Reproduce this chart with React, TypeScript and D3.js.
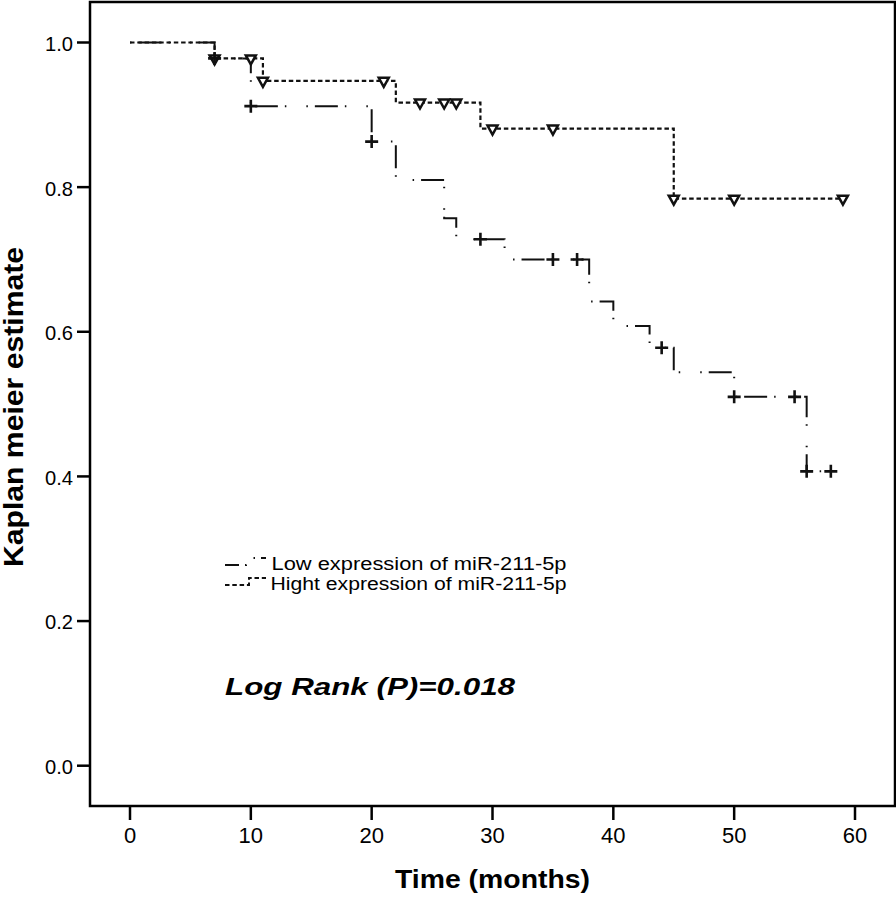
import React from 'react';
import * as d3 from 'd3';

// Kaplan-Meier step data (time in months, survival estimate)
const lowTimes = [0, 7, 10, 20, 22, 26, 27, 31, 38, 40, 43, 45, 50, 56, 58];
const lowSurv = [1.0, 0.978, 0.912, 0.863, 0.81, 0.757, 0.728, 0.7, 0.642, 0.608, 0.578, 0.544, 0.51, 0.407, 0.407];
const lowCensorTimes = [7, 10, 20, 29, 35, 37, 44, 50, 55, 56, 58];
const lowCensorSurv = [0.978, 0.912, 0.863, 0.728, 0.7, 0.7, 0.578, 0.51, 0.51, 0.407, 0.407];

const highTimes = [0, 7, 11, 22, 29, 45, 59];
const highSurv = [1.0, 0.978, 0.947, 0.917, 0.881, 0.784, 0.784];
const highCensorTimes = [7, 10, 11, 21, 24, 26, 27, 30, 35, 45, 50, 59];
const highCensorSurv = [0.978, 0.978, 0.947, 0.947, 0.917, 0.917, 0.917, 0.881, 0.881, 0.784, 0.784, 0.784];

const xTicks = [0, 10, 20, 30, 40, 50, 60];
const yTicks = [0, 0.2, 0.4, 0.6, 0.8, 1.0];

const legendLabels = ['Low expression of miR-211-5p', 'Hight expression of miR-211-5p'];
const statText = 'Log Rank (P)=0.018';
const xTitle = 'Time (months)';
const yTitle = 'Kaplan meier estimate';

const W = 896;
const H = 897;
const FONT = '"Liberation Sans", Arial, Helvetica, sans-serif';

const frame = { left: 90, right: 895, top: 2, bottom: 806 };

export default function App() {
  const x = d3.scaleLinear().domain([0, 60]).range([130, 855]);
  const y = d3.scaleLinear().domain([0, 1]).range([765.7, 42.5]);

  const line = d3
    .line<[number, number]>()
    .x((d) => x(d[0]))
    .y((d) => y(d[1]))
    .curve(d3.curveStepAfter);

  const lowPts: [number, number][] = lowTimes.map((t, i) => [t, lowSurv[i]]);
  const highPts: [number, number][] = highTimes.map((t, i) => [t, highSurv[i]]);

  const fmt = d3.format('.1f');

  const lowDash = '1.5,7,23,7,1.5,20';
  const highDash = '4.5,2.8';

  return (
    <svg
      width={W}
      height={H}
      viewBox={`0 0 ${W} ${H}`}
      style={{ position: 'absolute', left: 0, top: 0, background: '#fff' }}
      fontFamily={FONT}
    >
      <rect x={0} y={0} width={W} height={H} fill="#fff" />
      {/* frame */}
      <rect
        x={frame.left}
        y={frame.top}
        width={frame.right - frame.left}
        height={frame.bottom - frame.top}
        fill="none"
        stroke="#000"
        strokeWidth={2.5}
      />
      {/* y ticks */}
      {yTicks.map((v) => (
        <g key={'y' + v}>
          <line x1={frame.left - 13} x2={frame.left} y1={y(v)} y2={y(v)} stroke="#000" strokeWidth={2.5} />
          <text x={73} y={y(v)} dy="0.4em" textAnchor="end" fontSize={21} textLength={28} lengthAdjust="spacingAndGlyphs" fill="#000">
            {fmt(v)}
          </text>
        </g>
      ))}
      {/* x ticks */}
      {xTicks.map((v) => (
        <g key={'x' + v}>
          <line x1={x(v)} x2={x(v)} y1={frame.bottom} y2={frame.bottom + 14} stroke="#000" strokeWidth={2.5} />
          <text x={x(v)} y={843} textAnchor="middle" fontSize={22} fill="#000">
            {v}
          </text>
        </g>
      ))}
      {/* axis titles */}
      <text
        x={492.5}
        y={888}
        textAnchor="middle"
        fontSize={26}
        fontWeight="bold"
        textLength={195}
        lengthAdjust="spacingAndGlyphs"
        fill="#000"
      >
        {xTitle}
      </text>
      <text
        transform={`translate(22.5,407) rotate(-90)`}
        textAnchor="middle"
        fontSize={27}
        fontWeight="bold"
        textLength={320}
        lengthAdjust="spacingAndGlyphs"
        fill="#000"
      >
        {yTitle}
      </text>

      {/* curves */}
      <path d={line(highPts) || ''} fill="none" stroke="#111" strokeWidth={2.2} strokeDasharray={highDash} />
      <path d={line(lowPts) || ''} fill="none" stroke="#111" strokeWidth={2} strokeDasharray={lowDash} />

      {/* censor marks: high (triangles) */}
      {highCensorTimes.map((t, i) => {
        const cx = x(t);
        const cy = y(highCensorSurv[i]);
        return (
          <path
            key={'hc' + i}
            d={`M${cx - 5},${cy - 3} L${cx + 5},${cy - 3} L${cx},${cy + 6} Z`}
            fill="#fff"
            stroke="#111"
            strokeWidth={2.5}
            strokeLinejoin="miter"
          />
        );
      })}
      {/* censor marks: low (plus) */}
      {lowCensorTimes.map((t, i) => {
        const cx = x(t);
        const cy = y(lowCensorSurv[i]);
        return (
          <path
            key={'lc' + i}
            d={`M${cx - 6.5},${cy} H${cx + 6.5} M${cx},${cy - 6.5} V${cy + 6.5}`}
            stroke="#111"
            strokeWidth={2.6}
            fill="none"
          />
        );
      })}

      {/* legend */}
      <path d="M225,565 H246 V558 H266" fill="none" stroke="#111" strokeWidth={2} strokeDasharray="14,6,1.5,14,1.5,6" />
      <text x={271.5} y={570} fontSize={18} textLength={295} lengthAdjust="spacingAndGlyphs" fill="#000">
        {legendLabels[0]}
      </text>
      <path d="M225,585 H249 V578 H266" fill="none" stroke="#111" strokeWidth={2} strokeDasharray={highDash} />
      <text x={270.5} y={590} fontSize={18} textLength={296} lengthAdjust="spacingAndGlyphs" fill="#000">
        {legendLabels[1]}
      </text>

      {/* statistic */}
      <text
        x={225}
        y={695}
        fontSize={24}
        fontWeight="bold"
        fontStyle="italic"
        textLength={290}
        lengthAdjust="spacingAndGlyphs"
        fill="#000"
      >
        {statText}
      </text>
    </svg>
  );
}
